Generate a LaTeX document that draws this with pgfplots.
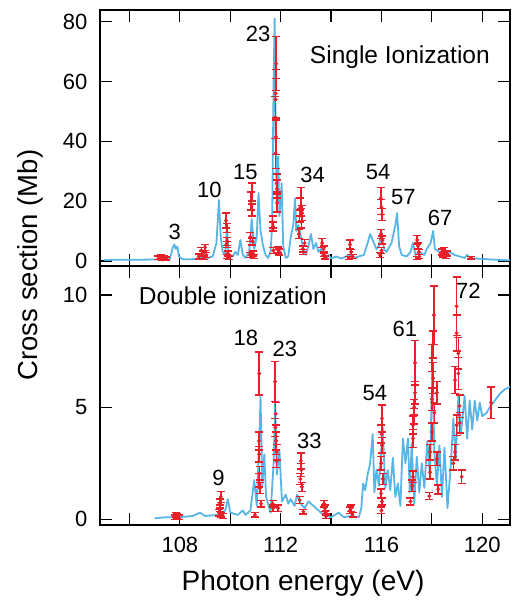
\documentclass[border=0pt]{standalone}
\usepackage{pgfplots}
\pgfplotsset{compat=1.18}
\usepackage{fontspec}
\setmainfont{Liberation Sans}
\definecolor{theo}{RGB}{88,182,230}
\definecolor{expt}{RGB}{232,32,42}
\pgfplotsset{
  panel/.style={
    scale only axis, width=410pt,
    xmin=104.83, xmax=121.1,
    xtick={106,108,...,120},
    tick align=inside, xtick pos=both, ytick pos=both,
    major tick length=12pt,
    axis line style={line width=1.4pt},
    major tick style={line width=1.2pt, black},
    /pgf/number format/assume math mode=true,
    tick label style={font=\fontsize{22}{26}\selectfont},
    yticklabel style={xshift=-9pt},
    xticklabel style={yshift=-9pt},
    clip=true,
  },
  theory/.style={color=theo, line width=1.8pt, no markers, line join=round},
  exper/.style={color=expt, only marks, mark=*, mark size=1.8pt,
    mark options={draw=expt, fill=expt},
    error bars/y dir=both, error bars/y explicit,
    error bars/error bar style={line width=1.6pt, draw=expt, color=expt},
    error bars/error mark options={rotate=90, mark size=4pt, line width=1.4pt, draw=expt, color=expt}},
}
\begin{document}
\begin{tikzpicture}
\path[use as bounding box] (0pt,0pt) rectangle (512pt,-608pt);
% ---------------- top panel ----------------
\begin{axis}[panel, at={(100pt,-266pt)}, anchor=south west, height=256pt,
  ymin=-1.7, ymax=83.9, ytick={0,20,40,60,80}, xticklabels={}]
\addplot[theory] coordinates {
(105.0,0.3)(105.5,0.4)(106.0,0.4)(106.5,0.4)(107.0,0.5)(107.3,0.5)(107.6,0.6)
(107.72,4.5)(107.78,5.5)(107.84,4.0)(107.9,4.8)(107.96,1.5)(108.1,0.6)(108.4,0.5)
(108.7,0.8)(108.9,1.2)(109.1,1.0)(109.3,1.5)(109.45,6)(109.55,20.4)(109.62,8)
(109.7,3)(109.8,2)(109.87,12)(109.93,2)(110.1,1.5)(110.2,3)(110.3,2)(110.4,7)
(110.5,2)(110.6,1)(110.75,3)(110.85,14)(110.95,4)(111.05,8)(111.12,22.7)(111.2,10)
(111.3,5)(111.4,2)(111.5,1)(111.6,3)(111.66,12)(111.72,60)(111.76,81)(111.8,40)
(111.85,20)(111.9,35)(111.95,15)(112.04,26)(112.1,5)(112.2,1)(112.3,1.5)(112.4,8)
(112.5,12)(112.57,21)(112.62,10)(112.7,12)(112.8,8)(112.9,4)(113.0,2)(113.1,5)
(113.2,9)(113.3,4)(113.4,6)(113.5,3)(113.6,4)(113.7,2)(113.8,1)(113.9,2)(114.0,0.8)
(114.2,1.5)(114.4,0.8)(114.6,1.5)(114.8,2)(114.9,1)(115.1,1.5)(115.3,2)(115.45,6)
(115.55,9)(115.65,7)(115.8,4)(115.9,5)(116.0,10)(116.1,4)(116.2,3)(116.4,6)
(116.55,12)(116.62,16)(116.7,5)(116.8,2)(117.0,1.5)(117.15,3)(117.25,6)(117.35,2)
(117.5,3)(117.7,2)(117.8,4)(117.95,6)(118.05,10)(118.12,4)(118.3,3)(118.5,2)
(118.7,3)(118.9,2)(119.1,1.5)(119.3,1)(119.4,2)(119.5,1)(119.7,0.8)(120.0,0.7)
(120.3,0.5)(120.8,0.3)(121.1,0.2)};
\addplot[exper] table[row sep=\\, x index=0, y index=1, y error index=2] {
107.15 1.0 0.6\\ 107.25 1.5 0.6\\ 107.35 1.2 0.6\\ 107.45 0.8 0.5\\ 107.3 0.5 0.4\\
108.75 1.5 0.8\\ 108.85 3.5 1.0\\ 108.9 2.5 0.8\\ 108.95 1.0 0.6\\ 109.0 4.5 1.0\\ 109.05 2.0 0.8\\
109.83 13.5 2.5\\ 109.86 11 1.5\\ 109.88 6.5 1.3\\ 109.85 5.5 1.0\\ 109.9 2.5 0.8\\ 109.87 1.5 0.7\\ 109.95 1.0 0.6\\
110.82 20 3\\ 110.85 23 3\\ 110.87 17 2\\ 110.8 8 1.5\\ 110.88 6.5 1.2\\ 110.9 2.5 0.8\\ 110.78 2.0 0.8\\ 110.95 1.5 0.6\\
111.68 13 2\\ 111.7 11.5 1.5\\ 111.71 3.5 1\\ 111.8 36 5\\ 111.79 48 7\\ 111.8 56 8\\ 111.82 66 9\\ 111.81 41.5 6\\ 111.8 54 7\\
111.84 26 3\\ 111.85 24 3\\ 111.86 19.4 3\\ 111.9 3.7 1\\ 111.95 3 1\\
112.72 9 1.5\\ 112.75 15 2\\ 112.78 18 3\\ 112.8 21 3.5\\ 112.82 13 2\\ 112.85 16 2.5\\ 112.88 4 1\\ 112.95 6 1.2\\ 112.9 3 0.8\\
113.65 6 1.5\\ 113.7 4 1\\ 113.72 2 0.6\\ 113.75 1.2 0.5\\
114.75 5.5 1.5\\ 114.8 3 0.8\\ 114.85 1.5 0.6\\ 114.7 1 0.5\\
115.97 21 3.5\\ 116.0 18 2.5\\ 116.02 15.5 2\\ 115.98 9 1.5\\ 116.03 7 1.3\\ 116.0 3.5 1\\ 115.95 2 0.8\\
117.42 7 1.5\\ 117.45 5 1\\ 117.48 3 0.8\\ 117.5 1.5 0.6\\ 117.4 1 0.5\\
118.4 3 1\\ 118.45 2 0.7\\ 118.5 3.5 1\\ 118.55 1.5 0.6\\ 118.6 2.5 0.8\\
119.55 1.0 0.4\\
};
\begin{scope}[font=\fontsize{22}{26}\selectfont]
\node at (axis cs:107.8,9.7) {3};
\node at (axis cs:109.17,23.7) {10};
\node at (axis cs:110.6,29.8) {15};
\node at (axis cs:111.1,76) {23};
\node at (axis cs:113.27,28.8) {34};
\node at (axis cs:115.87,29.8) {54};
\node at (axis cs:116.87,21.4) {57};
\node at (axis cs:118.33,14.4) {67};
\end{scope}
\node[font=\fontsize{24.5}{28}\selectfont] at (axis cs:116.73,68) {Single Ionization};
\end{axis}
% ---------------- bottom panel ----------------
\begin{axis}[panel, at={(100pt,-525pt)}, anchor=south west, height=259pt,
  ymin=-0.25, ymax=11.29, ytick={0,5,10},
  xticklabels={,108,,112,,116,,120}]
\addplot[theory] coordinates {
(107.0,0.05)(107.5,0.1)(108.0,0.1)(108.5,0.15)(108.8,0.3)(109.0,0.15)(109.5,0.2)
(109.8,0.4)(109.9,0.9)(110.0,0.3)(110.3,0.2)(110.5,0.4)(110.6,0.2)(110.8,0.4)
(110.95,1.75)(111.05,0.6)(111.15,3.5)(111.2,5.47)(111.27,1.5)(111.35,2.9)(111.42,1.0)
(111.6,0.3)(111.72,2.5)(111.78,5.2)(111.85,2.0)(111.95,3.1)(112.05,0.8)(112.2,1.1)
(112.3,0.7)(112.4,0.9)(112.55,0.6)(112.65,1.1)(112.8,0.7)(112.95,0.5)(113.1,0.8)
(113.3,0.6)(113.5,0.4)(113.7,0.2)(114.0,0.1)(114.3,0.3)(114.5,0.1)(114.8,0.15)
(115.1,0.1)(115.2,0.5)(115.27,1.6)(115.35,1.3)(115.45,2.0)(115.55,2.5)(115.65,3.8)
(115.72,1.2)(115.8,2.2)(115.9,1.5)(116.05,4.1)(116.15,1.4)(116.25,2.2)(116.35,1.3)
(116.45,2.75)(116.55,1.0)(116.65,1.6)(116.75,0.6)(116.85,3.6)(116.95,2.5)(117.05,3.6)
(117.12,1.2)(117.2,3.4)(117.3,0.7)(117.4,2.8)(117.5,1.2)(117.6,2.5)(117.7,1.4)
(117.82,3.5)(117.92,2.0)(118.02,7.0)(118.1,3.0)(118.2,1.5)(118.3,3.3)(118.4,1.0)
(118.5,3.2)(118.62,0.5)(118.75,2.4)(118.85,4.5)(118.95,2.7)(119.05,5.5)(119.15,3.8)
(119.3,5.5)(119.4,3.6)(119.5,5.3)(119.6,4.0)(119.7,5.3)(119.8,4.4)(119.9,5.2)
(120.0,4.6)(120.17,4.75)(120.3,5.0)(120.5,5.3)(120.7,5.6)(120.9,5.8)(121.1,5.9)};
\addplot[exper] table[row sep=\\, x index=0, y index=1, y error index=2] {
107.8 0.1 0.1\\ 107.85 0.2 0.1\\ 107.9 0.15 0.1\\ 107.95 0.1 0.1\\
109.55 0.3 0.15\\ 109.6 0.7 0.2\\ 109.62 1.0 0.25\\ 109.58 0.5 0.15\\ 109.65 0.2 0.1\\ 109.7 0.15 0.1\\
110.98 0.2 0.1\\
111.15 6.5 0.95\\ 111.14 3.5 0.4\\ 111.15 2.9 0.35\\ 111.16 2.05 0.3\\ 111.13 1.75 0.3\\ 111.18 1.4 0.25\\ 111.22 0.7 0.15\\
111.68 0.7 0.15\\ 111.7 0.5 0.15\\
111.78 6.14 0.9\\ 111.8 4.7 0.5\\ 111.79 4.1 0.4\\ 111.82 3.5 0.4\\ 111.84 3.0 0.35\\ 111.83 2.6 0.3\\ 111.9 0.5 0.15\\
112.8 2.6 0.35\\ 112.82 2.2 0.3\\ 112.78 1.8 0.25\\ 112.84 1.45 0.2\\ 112.75 0.86 0.15\\ 112.9 0.34 0.1\\
113.72 0.7 0.15\\ 113.75 0.5 0.15\\ 113.78 0.3 0.1\\ 113.8 0.15 0.1\\
114.75 0.4 0.15\\ 114.8 0.5 0.15\\ 114.85 0.2 0.1\\
116.02 4.5 0.6\\ 116.0 3.8 0.4\\ 116.02 3.3 0.35\\ 115.99 2.5 0.3\\ 116.05 1.8 0.25\\ 115.98 1.16 0.2\\ 116.02 0.8 0.15\\ 116.0 0.4 0.15\\
117.33 6.98 1.0\\ 117.33 5.65 0.5\\ 117.3 5.0 0.35\\ 117.28 4.6 0.35\\ 117.25 4.2 0.4\\ 117.25 3.6 0.4\\ 117.25 1.9 0.25\\ 117.22 1.5 0.25\\ 117.15 0.8 0.15\\
118.08 9.1 1.3\\ 118.0 7.2 0.6\\ 118.05 7.8 0.6\\ 118.05 6.3 0.7\\ 118.2 5.65 0.5\\ 118.0 5.35 0.5\\ 118.1 4.75 0.45\\ 118.0 3.9 0.4\\
117.93 3.0 0.35\\ 118.2 2.7 0.3\\ 117.93 2.1 0.3\\ 117.9 1.04 0.15\\ 118.25 1.34 0.2\\
118.98 9.5 1.3\\ 118.98 8.3 0.8\\ 119.05 7.4 0.7\\ 119.05 6.5 0.7\\ 118.92 6.2 0.6\\ 119.1 5.05 0.5\\ 118.98 4.2 0.45\\
119.1 4.3 0.45\\ 118.92 3.0 0.35\\ 118.85 2.5 0.3\\ 119.18 1.9 0.3\\
120.35 5.2 0.7\\
};
\begin{scope}[font=\fontsize{22}{26}\selectfont]
\node at (axis cs:109.53,1.83) {9};
\node at (axis cs:110.62,8.07) {18};
\node at (axis cs:112.17,7.58) {23};
\node at (axis cs:113.14,3.5) {33};
\node at (axis cs:115.74,5.65) {54};
\node at (axis cs:116.93,8.5) {61};
\node at (axis cs:119.45,10.2) {72};
\end{scope}
\node[font=\fontsize{24.5}{28}\selectfont] at (axis cs:110.1,9.95) {Double ionization};
\end{axis}
\node[rotate=90, font=\fontsize{27.5}{32}\selectfont] at (30pt,-265pt) {Cross section (Mb)};
\node[font=\fontsize{28}{32}\selectfont] at (303pt,-583pt) {Photon energy (eV)};
\end{tikzpicture}
\end{document}
